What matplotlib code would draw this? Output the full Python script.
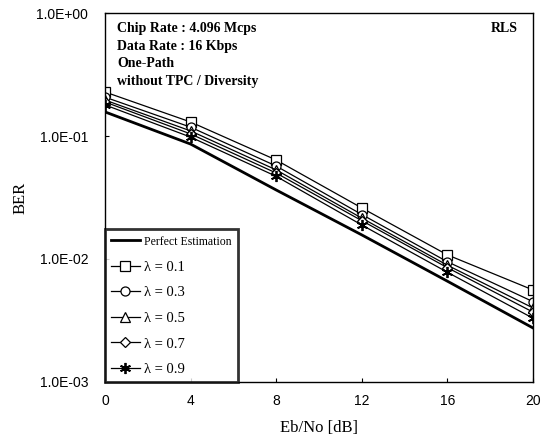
import numpy as np
import matplotlib
matplotlib.use("Agg")
import matplotlib.pyplot as plt
from matplotlib.ticker import FixedLocator, NullLocator

# Eb/No [dB]
ebno = [0, 4, 8, 12, 16, 20]

# BER curves
ber_perfect = [0.157, 0.086, 0.0364, 0.0157, 0.0066, 0.00275]
ber_l01 = [0.228, 0.130, 0.0638, 0.026, 0.0108, 0.0056]
ber_l03 = [0.207, 0.118, 0.057, 0.023, 0.0095, 0.0045]
ber_l05 = [0.196, 0.110, 0.053, 0.0215, 0.0089, 0.0040]
ber_l07 = [0.189, 0.104, 0.050, 0.0205, 0.0085, 0.0037]
ber_l09 = [0.179, 0.098, 0.047, 0.0189, 0.0078, 0.0033]

labels = ["Perfect Estimation", "λ = 0.1", "λ = 0.3", "λ = 0.5", "λ = 0.7", "λ = 0.9"]
markers = [None, "s", "o", "^", "D", (6, 2, 0)]

yticks = [1e0, 1e-1, 1e-2, 1e-3]
ytick_labels = ["1.0E+00", "1.0E-01", "1.0E-02", "1.0E-03"]

serif = ["Liberation Serif", "DejaVu Serif"]
sans = ["Liberation Sans", "DejaVu Sans"]

fig = plt.figure(figsize=(5.42, 4.41), dpi=100)
ax = fig.add_axes([0.1937, 0.1338, 0.7897, 0.8367])

series = [ber_perfect, ber_l01, ber_l03, ber_l05, ber_l07, ber_l09]
for ys, lab, mk in zip(series, labels, markers):
    if mk is None:
        ax.plot(ebno, ys, color="black", lw=2.0, label=lab)
    else:
        ms = {"s": 6.5, "o": 6.5, "^": 6.5, "D": 5}.get(mk, 8) if isinstance(mk, str) else 8
        ax.plot(ebno, ys, color="black", lw=0.9, marker=mk, ms=ms,
                mfc="white", mec="black", mew=1.3 if not isinstance(mk, str) else 0.9,
                label=lab)

ax.set_yscale("log")
ax.set_ylim(1e-3, 1e0)
ax.set_xlim(0, 20)
ax.xaxis.set_major_locator(FixedLocator(ebno))
ax.yaxis.set_major_locator(FixedLocator(yticks))
ax.yaxis.set_minor_locator(NullLocator())
ax.set_yticklabels(ytick_labels)
ax.tick_params(direction="in", length=3, width=0.8, pad=12, labelsize=10)
for t in ax.get_xticklabels() + ax.get_yticklabels():
    t.set_family(sans)
ax.tick_params(axis="x", pad=9)

for s in ax.spines.values():
    s.set_linewidth(1.0)

ax.set_xlabel("Eb/No [dB]", family=serif, fontsize=12, labelpad=8)
ax.set_ylabel("BER", family=serif, fontsize=12, labelpad=6)

info = "Chip Rate : 4.096 Mcps\nData Rate : 16 Kbps\nOne-Path\nwithout TPC / Diversity"
ax.text(0.028, 0.975, info, transform=ax.transAxes, va="top", ha="left",
        family=serif, fontsize=10, fontweight="bold", linespacing=1.45)
ax.text(0.965, 0.975, "RLS", transform=ax.transAxes, va="top", ha="right",
        family=serif, fontsize=10, fontweight="bold")

leg = ax.legend(loc="lower left", bbox_to_anchor=(0.0, 0.0), prop={"family": serif, "size": 10.5},
                frameon=True, fancybox=False, edgecolor="black", handlelength=2.0,
                handletextpad=0.3, labelspacing=0.85, borderaxespad=0.0, borderpad=0.4)
leg.get_frame().set_linewidth(2.0)
leg.get_texts()[0].set_fontsize(8.5)

fig.savefig("out.png", dpi=100)
